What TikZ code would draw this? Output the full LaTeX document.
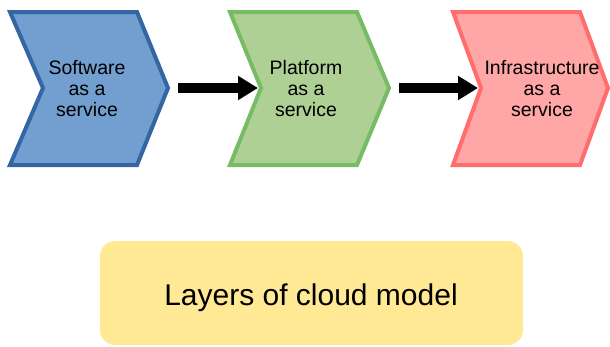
\documentclass[tikz,border=0pt]{standalone}
\usepackage{fontspec}
\setmainfont{Liberation Sans}
\usetikzlibrary{arrows.meta}
\definecolor{bluefill}{HTML}{729FCF}
\definecolor{bluedraw}{HTML}{3465A4}
\definecolor{greenfill}{HTML}{AFD095}
\definecolor{greendraw}{HTML}{77BC65}
\definecolor{redfill}{HTML}{FFA6A6}
\definecolor{reddraw}{HTML}{FF6D6D}
\definecolor{yellowfill}{HTML}{FFE994}
\tikzset{
  chev/.style={line width=4pt, line join=miter},
  chevtext/.style={align=center, font=\fontsize{19.5}{21}\selectfont, text=black, inner sep=0pt},
  flowarrow/.style={line width=10pt, -{Triangle[length=20pt,width=23pt]}, shorten <=10pt, shorten >=3pt},
  titlebox/.style={fill=yellowfill, rounded corners=15pt, draw=none}
}
\begin{document}
\begin{tikzpicture}[x=1pt,y=-1pt]
\useasboundingbox (0,0) rectangle (610,346);
% blue chevron
\draw[chev, fill=bluefill, draw=bluedraw] (10,12) -- (137,12) -- (168,88) -- (137,165) -- (10,165) -- (43,88) -- cycle;
\coordinate (tipA) at (168,88);
\node[chevtext] (softw) at (87,89) {Software\\as a\\service};
% green chevron
\draw[chev, fill=greenfill, draw=greendraw] (230,12) -- (357,12) -- (389,88) -- (357,165) -- (230,165) -- (261,88) -- cycle;
\coordinate (notchB) at (261,88);
\coordinate (tipB) at (389,88);
\node[chevtext] (platf) at (306,89) {Platform\\as a\\service};
% red chevron
\draw[chev, fill=redfill, draw=reddraw] (453,12) -- (580,12) -- (608,88) -- (580,165) -- (453,165) -- (481,88) -- cycle;
\coordinate (notchC) at (481,88);
\node[chevtext] (infra) at (542,89) {Infrastructure\\as a\\service};
% arrows
\draw[flowarrow] (tipA) -- (notchB);
\draw[flowarrow] (tipB) -- (notchC);
% title box
\fill[titlebox] (100,241) rectangle (523,345);
\node[anchor=base, font=\fontsize{30}{34}\selectfont, inner sep=0pt] (title) at (311,305) {Layers of cloud model};
\end{tikzpicture}
\end{document}
